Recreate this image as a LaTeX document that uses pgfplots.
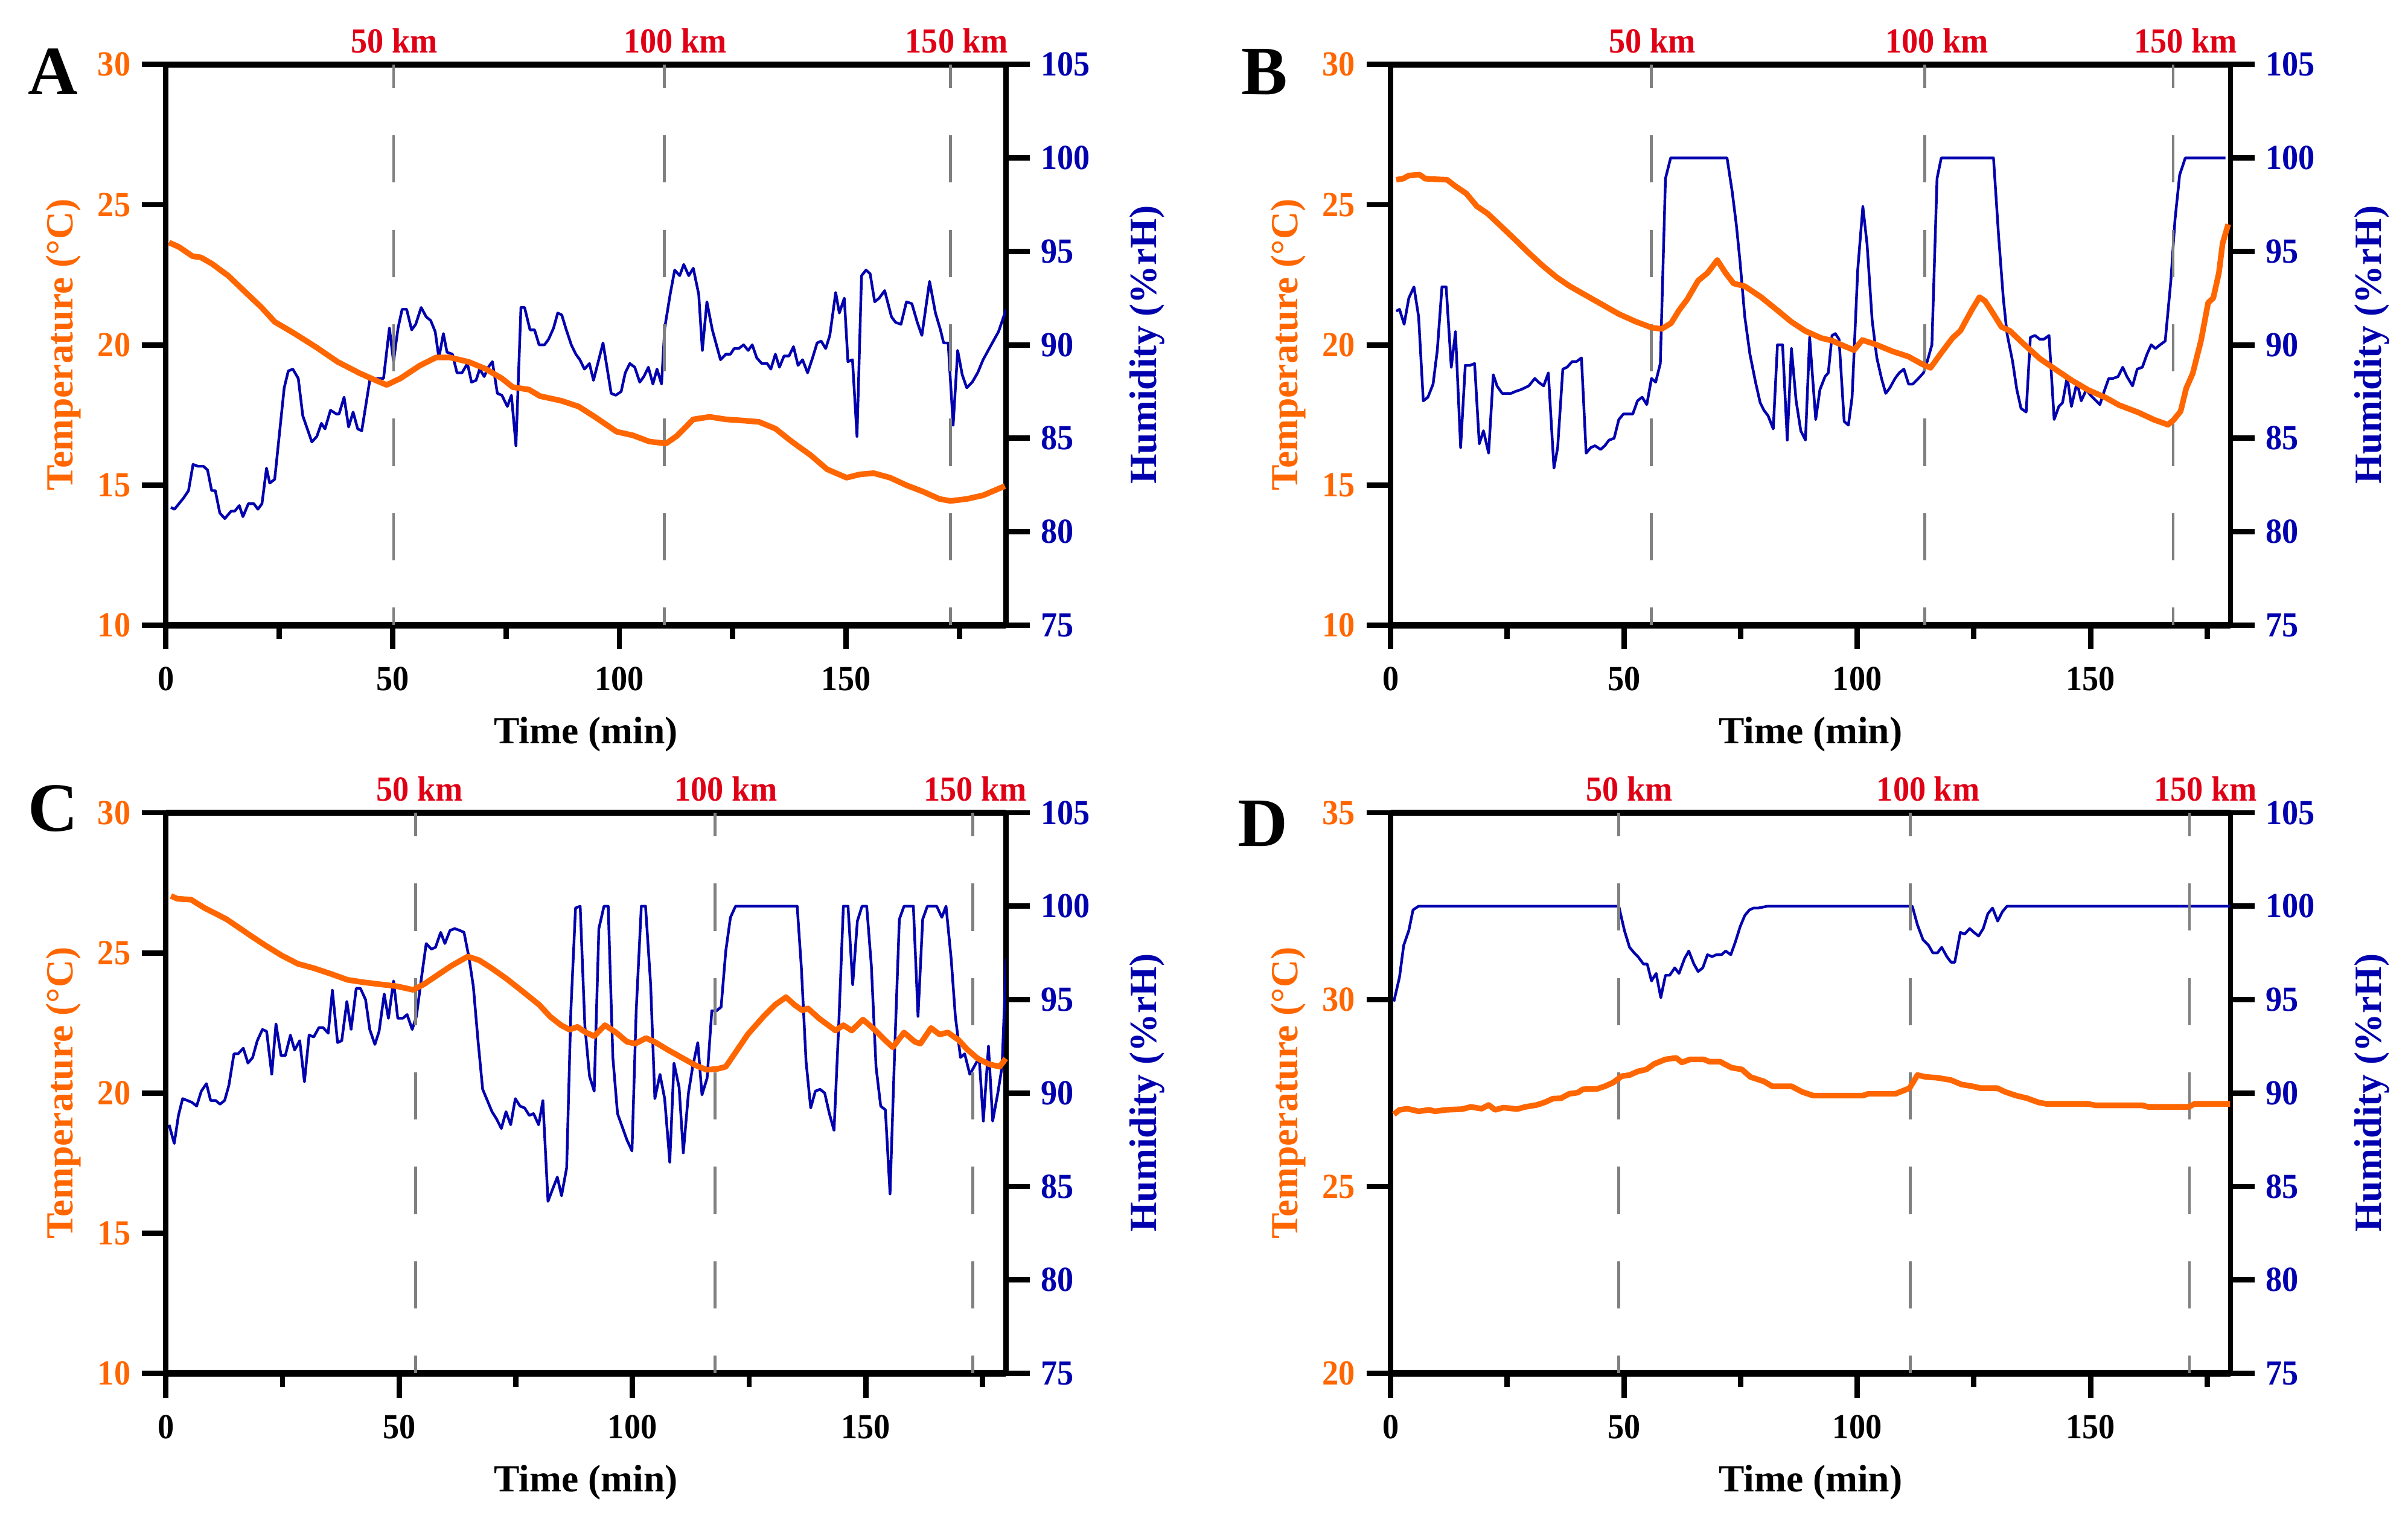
\documentclass[border=0pt]{standalone}
\usepackage{fontspec}
\setmainfont{Liberation Serif}
\newfontfamily\tickfont{Liberation Serif}[FakeStretch=0.93]
\usepackage{pgfplots}
\pgfplotsset{compat=1.18}

\definecolor{tOrange}{RGB}{255,102,0}
\definecolor{hBlue}{RGB}{0,0,175}
\definecolor{kmRed}{RGB}{224,0,22}
\definecolor{dashGray}{RGB}{128,128,128}

\pgfplotsset{
  panel/.style={
    scale only axis, width=266.9pt, height=178.1pt, anchor=south west,
    xmin=0,
    axis line style={-, black},
    tick align=outside,
    tick style={black, line width=1.7pt},
    major tick length=7.7pt, minor tick length=4.4pt,
    tick label style={font=\fontsize{11.2}{12}\tickfont\bfseries},
    /pgf/number format/assume math mode=true,
    label style={font=\fontsize{12.2}{14}\selectfont\bfseries},
  },
  tside/.style={panel,
    clip=false,
    axis x line*=bottom, axis y line*=left,
    x axis line style={line width=2pt}, y axis line style={line width=1.7pt},
    xtick={0,50,100,150}, minor xtick={25,75,125,175},
    yticklabel style={text=tOrange},
    xticklabel style={yshift=-2pt},
    xlabel={Time (min)}, ylabel={Temperature (°C)},
    xlabel style={at={(axis description cs:0.5,0)}, anchor=base, yshift=-37.6pt},
    ylabel style={text=tOrange, at={(axis description cs:-0.1218,0.5)}, anchor=center},
  },
  hside/.style={panel,
    axis x line*=top, axis y line*=right,
    x axis line style={line width=2pt}, y axis line style={line width=1.7pt},
    ymin=75, ymax=105, ytick={75,80,...,105},
    xticklabels={50 km,100 km,150 km},
    xtick style={draw=none, /pgfplots/major tick length=0pt},
    xticklabel style={text=kmRed, anchor=base, yshift=-3.9pt},
    yticklabel style={text=hBlue},
    ylabel={Humidity (\%rH)},
    ylabel style={text=hBlue, at={(axis description cs:1.1686,0.5)}, anchor=center},
  },
  temp/.style={tOrange, line width=1.8pt, line join=round},
  hum/.style={hBlue, line width=0.85pt, line join=round},
  km/.style={dashGray, line width=0.9pt, dash pattern=on 15pt off 15pt, dash phase=7.5pt},
}
\newcommand{\panellabel}[3]{\node[anchor=base, font=\fontsize{22}{22}\selectfont\bfseries, xshift=#2, yshift=#3] at (rel axis cs:0,1) {#1};}

\begin{document}
\begin{tikzpicture}
% ---------------- A ----------------
\begin{axis}[hside, at={(0pt,0pt)}, xmax=185.2, xtick={50.4,112.3,174.4}]
\addplot[hum] coordinates {(1.1,81.3)(1.9,81.2)(2.9,81.5)(3.9,81.8)(5.0,82.2)(6.0,83.6)(7.1,83.5)(8.3,83.5)(9.2,83.3)(10.1,82.2)(10.9,82.2)(11.9,81.0)(13.0,80.7)(14.4,81.1)(15.2,81.1)(16.2,81.4)(17.0,80.8)(18.2,81.5)(19.4,81.5)(20.3,81.2)(21.2,81.5)(22.2,83.4)(22.9,82.6)(24.0,82.8)(26.1,87.7)(27.0,88.6)(28.0,88.7)(29.2,88.2)(30.2,86.2)(31.2,85.5)(32.2,84.8)(33.3,85.1)(34.3,85.8)(35.1,85.5)(36.3,86.5)(37.6,86.3)(38.2,86.3)(39.3,87.2)(40.3,85.6)(41.3,86.4)(42.3,85.5)(43.2,85.4)(45.1,88.3)(45.8,88.2)(48.0,88.2)(49.3,90.9)(50.2,89.1)(51.2,90.9)(52.1,91.9)(53.1,91.9)(54.2,90.8)(55.1,91.1)(56.3,92.0)(57.4,91.5)(58.4,91.3)(59.4,90.7)(60.2,89.3)(61.2,90.6)(62.0,89.6)(63.2,89.5)(64.2,88.5)(65.3,88.5)(66.5,89.0)(67.4,88.0)(68.4,88.1)(69.2,88.7)(70.2,88.3)(71.1,88.8)(72.0,89.1)(73.1,87.4)(74.1,87.3)(75.3,86.7)(76.2,87.3)(77.2,84.6)(78.3,92.0)(79.1,92.0)(80.3,90.8)(81.3,90.8)(82.3,90.0)(83.5,90.0)(84.4,90.3)(85.5,90.9)(86.4,91.7)(87.3,91.6)(88.3,90.8)(89.4,90.0)(90.4,89.5)(91.3,89.2)(92.3,88.7)(93.4,89.0)(94.3,88.1)(96.4,90.1)(98.2,87.4)(99.2,87.3)(100.4,87.5)(101.3,88.5)(102.3,89.0)(103.4,88.8)(104.5,88.0)(105.4,88.3)(106.4,88.8)(107.4,87.9)(108.3,88.7)(109.3,87.9)(110.0,90.9)(111.2,92.7)(112.2,94.0)(113.3,93.7)(114.2,94.3)(115.3,93.7)(116.3,94.1)(117.5,92.7)(118.3,89.7)(119.3,92.3)(120.5,90.8)(122.3,89.2)(123.5,89.5)(124.5,89.5)(125.3,89.8)(126.3,89.8)(127.4,90.0)(128.4,89.7)(129.3,90.0)(130.3,89.3)(131.4,89.0)(132.6,89.0)(133.4,88.7)(134.4,89.5)(135.3,88.8)(136.3,89.4)(137.4,89.4)(138.4,89.9)(139.4,88.9)(140.4,89.2)(141.5,88.5)(142.6,89.3)(143.6,90.1)(144.5,90.2)(145.5,89.8)(146.4,90.5)(147.7,92.8)(148.5,91.7)(149.6,92.5)(150.4,89.1)(151.4,89.2)(152.4,85.1)(153.4,93.7)(154.4,94.0)(155.3,93.8)(156.3,92.3)(157.3,92.5)(158.5,92.9)(160.0,91.5)(160.9,91.2)(162.1,91.1)(163.3,92.3)(164.5,92.2)(165.7,91.2)(166.7,90.5)(168.4,93.4)(169.7,91.7)(170.8,90.8)(171.5,90.1)(172.5,90.1)(173.6,85.7)(174.6,89.7)(175.6,88.4)(176.6,87.7)(177.8,88.0)(179.0,88.5)(180.2,89.2)(182.0,90.0)(183.6,90.7)(185.3,91.9)};
\end{axis}
\begin{axis}[tside, at={(0pt,0pt)}, xmax=185.2, ymin=10, ymax=30, ytick={10,15,...,30}]
\addplot[km] coordinates {(50.2,30)(50.2,10)};
\addplot[km] coordinates {(109.9,30)(109.9,10)};
\addplot[km] coordinates {(173.0,30)(173.0,10)};
\addplot[temp] coordinates {(0.7,23.65)(2.9,23.49)(5.9,23.16)(7.7,23.12)(10.1,22.90)(13.8,22.46)(17.4,21.90)(21.0,21.35)(24.0,20.82)(28.2,20.42)(33.1,19.92)(37.9,19.39)(42.7,18.99)(46.3,18.73)(48.7,18.57)(51.7,18.80)(56.0,19.26)(59.6,19.55)(62.6,19.55)(66.8,19.39)(70.4,19.15)(74.1,18.80)(76.5,18.49)(80.1,18.40)(82.5,18.17)(87.3,18.00)(91.0,17.80)(94.6,17.43)(99.4,16.90)(103.0,16.77)(106.6,16.55)(110.3,16.48)(112.7,16.75)(116.3,17.34)(119.9,17.43)(123.5,17.34)(127.1,17.30)(130.8,17.25)(134.4,17.01)(138.0,16.55)(142.2,16.06)(145.8,15.56)(150.1,15.26)(153.1,15.38)(156.1,15.42)(159.7,15.26)(163.3,14.99)(167.0,14.76)(170.6,14.50)(173.0,14.43)(176.6,14.50)(180.2,14.63)(185.0,14.96)};
\panellabel{A}{-35.8pt}{-9.6pt}
\end{axis}
% ---------------- B ----------------
\begin{axis}[hside, at={(389.2pt,0pt)}, xmax=180, xtick={56.1,117.1,170.4}]
\addplot[hum] coordinates {(1.2,91.8)(1.9,91.9)(2.9,91.1)(3.9,92.5)(5.0,93.1)(6.0,91.5)(7.0,87.0)(8.0,87.2)(9.1,87.9)(10.0,89.7)(11.0,93.1)(11.9,93.1)(13.0,88.8)(13.9,90.7)(15.0,84.5)(16.0,88.9)(17.0,88.9)(18.0,89.0)(19.0,84.7)(19.9,85.4)(21.0,84.2)(22.0,88.4)(22.8,87.8)(23.9,87.4)(25.8,87.4)(26.7,87.5)(27.9,87.6)(29.6,87.8)(30.9,88.2)(31.7,88.0)(32.8,87.8)(33.8,88.5)(35.0,83.4)(35.8,84.5)(36.9,88.7)(37.8,88.8)(38.9,89.1)(39.8,89.1)(40.9,89.3)(41.9,84.2)(42.9,84.5)(43.8,84.6)(45.0,84.4)(45.9,84.6)(46.8,84.9)(47.9,85.0)(48.9,86.0)(49.9,86.3)(51.9,86.3)(52.9,87.0)(53.9,87.2)(54.9,86.8)(55.9,88.2)(56.8,88.0)(57.8,89.0)(58.9,98.9)(60.0,100)(72.1,100)(73.2,98.2)(74.1,96.4)(74.9,94.4)(75.9,91.5)(77.0,89.5)(78.2,88.0)(79.2,86.9)(80.0,86.5)(80.9,86.2)(82.0,85.5)(82.9,90.0)(84.0,90.0)(85.0,84.9)(85.9,89.8)(86.9,87.0)(87.9,85.4)(88.9,84.9)(89.8,90.4)(91.1,86.0)(92.0,87.6)(93.1,88.3)(93.8,88.5)(94.6,90.5)(95.3,90.6)(96.1,90.3)(97.2,85.9)(98.1,85.7)(98.9,87.2)(100.1,94.0)(101.2,97.4)(102.1,95.4)(103.2,91.3)(104.2,89.3)(105.2,88.2)(106.1,87.4)(107.0,87.7)(108.1,88.2)(109.0,88.5)(110.0,88.7)(111.0,87.9)(111.9,87.9)(113.1,88.2)(114.2,88.5)(115.1,89.2)(116.0,90.0)(117.1,98.9)(118.0,100)(129.2,100)(130.3,95.8)(131.3,92.5)(132.1,90.6)(133.3,89.1)(134.2,87.6)(135.1,86.6)(136.2,86.4)(137.1,90.4)(138.1,90.5)(139.1,90.3)(140.0,90.3)(141.1,90.5)(142.2,86.0)(143.2,86.7)(144.0,86.9)(145.0,88.3)(145.9,86.7)(147.1,88.0)(148.0,87.0)(149.1,87.6)(150.0,87.3)(150.8,87.1)(152.0,86.8)(152.9,87.5)(153.9,88.2)(154.8,88.2)(155.9,88.3)(156.9,88.8)(157.8,88.3)(159.0,87.8)(160.0,88.7)(161.1,88.8)(162.1,89.5)(163.0,90.0)(163.9,89.8)(164.9,90.0)(166.0,90.2)(167.2,93.4)(168.1,96.7)(169.1,99.1)(170.3,100)(178.9,100)};
\end{axis}
\begin{axis}[tside, at={(389.2pt,0pt)}, xmax=180, ymin=10, ymax=30, ytick={10,15,...,30}]
\addplot[km] coordinates {(55.9,30)(55.9,10)};
\addplot[km] coordinates {(114.5,30)(114.5,10)};
\addplot[km] coordinates {(167.7,30)(167.7,10)};
\addplot[temp] coordinates {(1.2,25.89)(2.7,25.93)(3.9,26.04)(6.2,26.07)(7.4,25.93)(9.1,25.91)(12.1,25.89)(13.8,25.67)(16.2,25.40)(18.5,24.94)(20.8,24.68)(23.8,24.21)(26.7,23.75)(29.6,23.28)(32.6,22.82)(35.5,22.42)(38.4,22.09)(41.9,21.76)(45.4,21.43)(48.9,21.10)(52.5,20.83)(56.0,20.61)(58.1,20.57)(60.1,20.77)(61.8,21.23)(63.6,21.63)(65.9,22.29)(67.9,22.56)(70.0,23.02)(71.8,22.56)(73.5,22.19)(75.9,22.09)(79.4,21.70)(82.9,21.23)(85.8,20.83)(88.8,20.50)(92.3,20.24)(94.6,20.15)(97.0,19.97)(99.3,19.81)(101.1,20.17)(104.0,20.01)(107.5,19.77)(111.0,19.58)(113.9,19.31)(115.7,19.18)(118.0,19.71)(120.4,20.24)(122.1,20.50)(124.5,21.23)(126.2,21.70)(127.4,21.56)(129.2,21.10)(130.9,20.64)(132.7,20.50)(135.6,20.04)(139.1,19.51)(142.6,19.11)(146.1,18.72)(149.6,18.38)(153.2,18.12)(156.1,17.85)(160.2,17.59)(163.7,17.32)(166.6,17.15)(167.8,17.32)(169.3,17.63)(170.5,18.45)(171.9,18.98)(173.7,20.17)(175.2,21.50)(176.3,21.67)(177.5,22.56)(178.3,23.62)(179.5,24.30)};
\panellabel{B}{-40pt}{-9.6pt}
\end{axis}
% ---------------- C ----------------
\begin{axis}[hside, at={(0pt,-237.7pt)}, xmax=180, xtick={54.4,120.0,173.5}]
\addplot[hum] coordinates {(0.7,88.3)(1.8,87.3)(2.7,88.8)(3.6,89.7)(4.6,89.6)(5.6,89.5)(6.6,89.3)(7.6,90.1)(8.7,90.5)(9.6,89.6)(10.7,89.6)(11.6,89.4)(12.6,89.6)(13.5,90.4)(14.6,92.1)(15.5,92.1)(16.6,92.4)(17.6,91.6)(18.6,91.9)(19.6,92.8)(20.7,93.4)(21.6,93.3)(22.7,91.0)(23.6,93.7)(24.7,92.0)(25.6,92.0)(26.7,93.1)(27.6,92.3)(28.7,92.8)(29.7,90.6)(30.7,93.1)(31.7,93.0)(32.8,93.5)(33.7,93.5)(34.8,93.2)(35.7,95.5)(36.8,92.7)(37.7,92.8)(38.8,94.9)(39.7,93.4)(40.8,95.6)(41.7,95.6)(42.8,95.0)(43.7,93.4)(44.8,92.6)(45.7,93.3)(46.8,95.3)(47.7,94.0)(48.8,96.0)(49.7,94.0)(50.8,94.0)(51.7,94.2)(52.8,93.4)(53.7,94.1)(54.8,96.2)(55.8,98.0)(56.9,97.7)(57.8,97.8)(58.9,98.6)(59.8,98.0)(60.9,98.7)(61.9,98.8)(63.0,98.7)(63.9,98.6)(65.0,97.2)(65.9,95.7)(66.9,92.8)(67.9,90.2)(68.9,89.6)(69.9,89.0)(70.9,88.6)(71.9,88.1)(72.9,89.0)(73.9,88.3)(74.9,89.7)(75.9,89.3)(76.9,89.2)(77.9,88.8)(78.8,88.9)(79.9,88.3)(80.8,89.6)(81.9,84.2)(82.8,84.8)(83.9,85.5)(84.8,84.5)(85.9,86.0)(86.8,94.4)(87.8,99.9)(88.8,100)(89.8,93.6)(90.8,90.9)(91.8,90.1)(92.8,98.8)(93.9,100)(94.8,100)(95.8,91.9)(96.8,88.9)(97.8,88.2)(98.8,87.5)(99.9,86.9)(100.8,94.4)(101.9,100)(102.8,100)(103.9,95.8)(104.8,89.7)(105.9,91.0)(106.9,89.7)(108.0,86.3)(108.9,91.6)(110.0,90.3)(110.9,86.8)(112.0,90.0)(112.9,91.4)(114.0,92.7)(114.9,89.9)(116.0,90.8)(117.0,94.4)(118.0,94.4)(119.0,94.6)(120.0,97.6)(121.0,99.4)(122.1,100)(135.3,100)(136.2,96.7)(137.2,91.7)(138.2,89.2)(139.2,90.1)(140.2,90.2)(141.2,90.0)(142.2,88.9)(143.2,88.0)(144.2,93.6)(145.2,100)(146.2,100)(147.2,95.8)(148.2,99.2)(149.2,100)(150.2,100)(151.2,96.8)(152.2,91.4)(153.2,89.3)(154.2,89.1)(155.2,84.6)(156.2,92.3)(157.2,99.3)(158.2,100)(160.2,100)(161.2,94.1)(162.2,99.3)(163.2,100)(165.2,100)(166.3,99.4)(167.2,100)(168.3,97.2)(169.2,94.1)(170.3,91.9)(171.2,92.1)(172.3,91.0)(173.2,91.4)(174.3,91.9)(175.2,88.5)(176.3,92.5)(177.2,88.5)(178.3,90.0)(179.2,91.4)(180.1,97.2)};
\end{axis}
\begin{axis}[tside, at={(0pt,-237.7pt)}, xmax=180, ymin=10, ymax=30, ytick={10,15,...,30}]
\addplot[km] coordinates {(53.5,30)(53.5,10)};
\addplot[km] coordinates {(117.7,30)(117.7,10)};
\addplot[km] coordinates {(172.9,30)(172.9,10)};
\addplot[temp] coordinates {(1.1,27.03)(2.5,26.93)(5.4,26.90)(8.3,26.60)(10.7,26.40)(13.0,26.20)(15.4,25.93)(18.3,25.60)(21.3,25.27)(24.8,24.91)(28.3,24.61)(31.8,24.45)(35.4,24.25)(38.9,24.04)(42.4,23.95)(45.9,23.88)(49.5,23.81)(53.0,23.68)(55.3,23.88)(57.7,24.15)(61.2,24.54)(64.7,24.87)(67.1,24.74)(69.4,24.50)(73.0,24.08)(76.5,23.62)(80.0,23.15)(82.4,22.72)(84.7,22.42)(86.5,22.26)(88.2,22.36)(90.0,22.16)(91.8,22.03)(94.1,22.42)(96.5,22.16)(98.8,21.83)(100.6,21.76)(102.9,21.96)(104.7,21.83)(107.6,21.54)(110.6,21.26)(113.5,20.99)(115.9,20.83)(118.2,20.86)(120.0,20.94)(122.3,21.50)(124.7,22.09)(128.2,22.75)(130.6,23.15)(132.9,23.42)(134.7,23.15)(136.4,22.95)(137.6,23.02)(140.0,22.66)(143.5,22.23)(145.2,22.42)(147.0,22.23)(149.4,22.62)(151.7,22.29)(154.1,21.89)(155.8,21.63)(158.2,22.16)(160.5,21.83)(161.7,21.76)(164.0,22.32)(165.8,22.09)(167.6,22.16)(169.9,21.89)(171.7,21.56)(174.0,21.23)(176.4,21.03)(178.7,20.94)(180.0,21.23)};
\panellabel{C}{-35.8pt}{-5.9pt}
\end{axis}
% ---------------- D ----------------
\begin{axis}[hside, at={(389.2pt,-237.7pt)}, xmax=180, xtick={51.2,115.2,174.6}]
\addplot[hum] coordinates {(0.7,94.9)(1.9,96.2)(2.8,97.9)(3.9,98.7)(4.8,99.8)(6.0,100)(48.9,100)(50.1,98.7)(51.2,97.8)(52.2,97.5)(53.0,97.3)(54.2,96.9)(55.0,96.9)(55.9,96.0)(56.9,96.4)(57.9,95.1)(58.9,96.3)(59.8,96.3)(60.9,96.7)(61.8,96.4)(63.0,97.2)(63.9,97.6)(65.0,96.9)(65.9,96.5)(66.9,96.7)(67.9,97.4)(68.9,97.3)(69.8,97.4)(70.9,97.4)(71.8,97.6)(72.9,97.4)(73.9,98.1)(74.9,98.9)(75.9,99.5)(76.9,99.8)(77.8,99.9)(78.8,99.9)(80.8,100)(111.8,100)(112.9,99.0)(114.1,98.2)(115.3,97.9)(116.2,97.5)(117.2,97.5)(118.1,97.8)(119.2,97.3)(120.1,97.0)(120.9,97.0)(122.1,98.6)(123.0,98.5)(124.1,98.8)(125.0,98.6)(126.0,98.4)(127.0,98.8)(128.0,99.6)(129.0,99.9)(130.1,99.2)(131.1,99.7)(132.1,100)(179.9,100)};
\end{axis}
\begin{axis}[tside, at={(389.2pt,-237.7pt)}, xmax=180, ymin=20, ymax=35, ytick={20,25,30,35}]
\addplot[km] coordinates {(48.9,35)(48.9,20)};
\addplot[km] coordinates {(111.4,35)(111.4,20)};
\addplot[km] coordinates {(171.2,35)(171.2,20)};
\addplot[temp] coordinates {(0.7,26.93)(1.9,27.05)(3.6,27.08)(6.0,27.01)(8.3,27.05)(9.5,27.01)(11.9,27.05)(15.4,27.07)(17.2,27.13)(19.5,27.08)(21.0,27.18)(22.4,27.05)(24.2,27.11)(27.1,27.07)(28.9,27.13)(31.3,27.18)(33.0,27.25)(34.8,27.35)(36.5,27.36)(38.3,27.48)(40.1,27.51)(41.2,27.60)(44.2,27.61)(45.9,27.68)(47.7,27.78)(49.5,27.95)(51.2,27.98)(53.0,28.08)(54.8,28.13)(56.5,28.28)(58.9,28.40)(61.2,28.44)(62.4,28.32)(64.2,28.40)(67.1,28.40)(68.3,28.34)(70.6,28.34)(73.0,28.18)(75.3,28.13)(77.1,27.93)(80.0,27.81)(81.8,27.68)(85.9,27.68)(88.2,27.53)(90.6,27.43)(101.2,27.43)(102.4,27.48)(108.2,27.48)(111.2,27.63)(112.9,27.98)(114.7,27.93)(117.0,27.91)(120.0,27.85)(122.3,27.73)(124.7,27.68)(126.4,27.63)(130.0,27.63)(131.7,27.53)(134.1,27.43)(136.4,27.36)(138.8,27.25)(140.5,27.21)(149.4,27.21)(151.1,27.17)(161.1,27.17)(162.3,27.13)(171.1,27.13)(172.3,27.21)(179.9,27.21)};
\panellabel{D}{-40.7pt}{-10.7pt}
\end{axis}
\pgfresetboundingbox
\path (-52.7pt,-285.4pt) rectangle (712.5pt,198.6pt);
\end{tikzpicture}
\end{document}
